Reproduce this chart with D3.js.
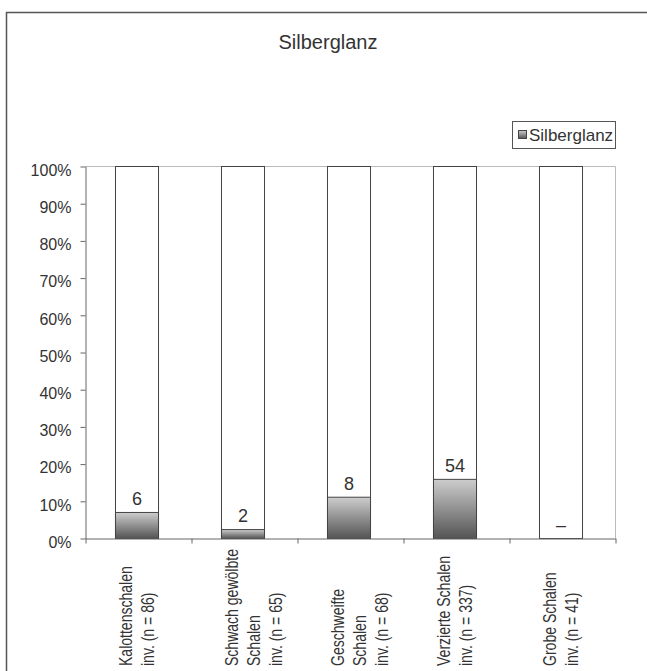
<!DOCTYPE html>
<html>
<head>
<meta charset="utf-8">
<script src="https://cdn.jsdelivr.net/npm/d3@7"></script>
<style>
  html, body { margin: 0; padding: 0; background: #fff; }
  svg { display: block; font-family: "Liberation Sans", Arial, sans-serif; }
</style>
</head>
<body>
<svg id="chart" width="647" height="671"></svg>
<script>
// ---- data ----
const categories = ["Kalottenschalen", "Schwach gewölbte Schalen", "Geschweifte Schalen", "Verzierte Schalen", "Grobe Schalen"];
const labelLines = [
  ["Kalottenschalen", "inv. (n = 86)"],
  ["Schwach gewölbte", "Schalen", "inv. (n = 65)"],
  ["Geschweifte", "Schalen", "inv. (n = 68)"],
  ["Verzierte Schalen", "inv. (n = 337)"],
  ["Grobe Schalen", "inv. (n = 41)"]
];
const sharePercent = [7.0, 2.4, 11.1, 15.9, 0];   // Silberglanz share (% of bar)
const valueLabels = ["6", "2", "8", "54", "–"];
const yTicks = [0, 10, 20, 30, 40, 50, 60, 70, 80, 90, 100];
const seriesName = "Silberglanz";
const title = "Silberglanz";

// ---- layout ----
const svg = d3.select("#chart");
const plot = { left: 85, right: 615, top: 166, bottom: 538 };
const textColor = "#333";

// outer frame (extends beyond the window on right/bottom)
svg.append("rect")
  .attr("x", 6.5).attr("y", 12.5)
  .attr("width", 700).attr("height", 700)
  .attr("fill", "none").attr("stroke", "#555").attr("stroke-width", 1.5);

// gradient
const defs = svg.append("defs");
const grad = defs.append("linearGradient").attr("id", "g").attr("x1", 0).attr("y1", 0).attr("x2", 0).attr("y2", 1);
grad.append("stop").attr("offset", "0%").attr("stop-color", "#cdcdcd");
grad.append("stop").attr("offset", "100%").attr("stop-color", "#545454");

const x = d3.scaleBand().domain(categories).range([plot.left - 1.5, plot.right - 1.5])
  .paddingInner(0.594).paddingOuter(0.297);
const y = d3.scaleLinear().domain([0, 100]).range([plot.bottom, plot.top]);

// plot border (top & right, light gray)
svg.append("path")
  .attr("d", `M${plot.left},${plot.top + 0.5}H${plot.right + 0.5}V${plot.bottom}`)
  .attr("fill", "none").attr("stroke", "#bbb").attr("stroke-width", 1);

// bars: white full 100% bar + gradient share
const g = svg.append("g");
categories.forEach((c, i) => {
  g.append("rect")
    .attr("x", x(c) + 0.5).attr("y", y(100) + 0.5)
    .attr("width", x.bandwidth()).attr("height", y(0) - y(100))
    .attr("fill", "#fff").attr("stroke", "#444").attr("stroke-width", 1);
  if (sharePercent[i] > 0) {
    g.append("rect")
      .attr("x", x(c) + 0.5).attr("y", y(sharePercent[i]) + 0.5)
      .attr("width", x.bandwidth()).attr("height", y(0) - y(sharePercent[i]))
      .attr("fill", "url(#g)").attr("stroke", "#444").attr("stroke-width", 1);
  }
  g.append("text")
    .attr("x", x(c) + x.bandwidth() / 2 + 0.5)
    .attr("y", y(sharePercent[i]) - 7)
    .attr("text-anchor", "middle")
    .attr("font-size", 18)
    .attr("fill", textColor)
    .text(valueLabels[i]);
});

// y axis
const yAxis = svg.append("g")
  .attr("transform", `translate(${plot.left + 0.5},0.5)`)
  .call(d3.axisLeft(y).tickValues(yTicks).tickFormat(d => d + "%").tickSize(5).tickPadding(9).tickSizeOuter(0));
yAxis.select(".domain").attr("stroke", "#666");
yAxis.selectAll(".tick line").attr("stroke", "#666");
yAxis.selectAll(".tick text").attr("font-size", 16).attr("fill", textColor)
  .attr("font-family", "'Liberation Sans', Arial, sans-serif").attr("dy", "0.55em");

// x axis (ticks at category boundaries)
const xb = d3.scaleLinear().domain([0, categories.length]).range([plot.left, plot.right]);
const xAxis = svg.append("g")
  .attr("transform", `translate(0.5,${plot.bottom + 0.5})`)
  .call(d3.axisBottom(xb).tickValues(d3.range(categories.length + 1)).tickFormat("").tickSize(5).tickSizeOuter(0));
xAxis.select(".domain").attr("stroke", "#666");
xAxis.selectAll(".tick line").attr("stroke", "#666");

// x category labels (rotated, multi-line, condensed)
categories.forEach((c, i) => {
  const cx = xb(i + 0.5);
  labelLines[i].forEach((line, j) => {
    svg.append("text")
      .attr("transform", `translate(${cx - 6 + j * 22},666) rotate(-90) scale(0.78,1)`)
      .attr("font-size", 18)
      .attr("fill", textColor)
      .text(line);
  });
});

// title
svg.append("text")
  .attr("x", 328).attr("y", 49)
  .attr("text-anchor", "middle")
  .attr("font-size", 20)
  .attr("fill", textColor)
  .text(title);

// legend
const lg = svg.append("g").attr("transform", "translate(512,121)");
lg.append("rect").attr("x", 0.5).attr("y", 0.5).attr("width", 103).attr("height", 27)
  .attr("fill", "#fff").attr("stroke", "#555").attr("stroke-width", 1);
lg.append("rect").attr("x", 6.5).attr("y", 9.5).attr("width", 8).attr("height", 8)
  .attr("fill", "url(#g)").attr("stroke", "#444").attr("stroke-width", 1);
lg.append("text").attr("x", 17).attr("y", 20)
  .attr("font-size", 17).attr("fill", textColor).text(seriesName);
</script>
</body>
</html>
